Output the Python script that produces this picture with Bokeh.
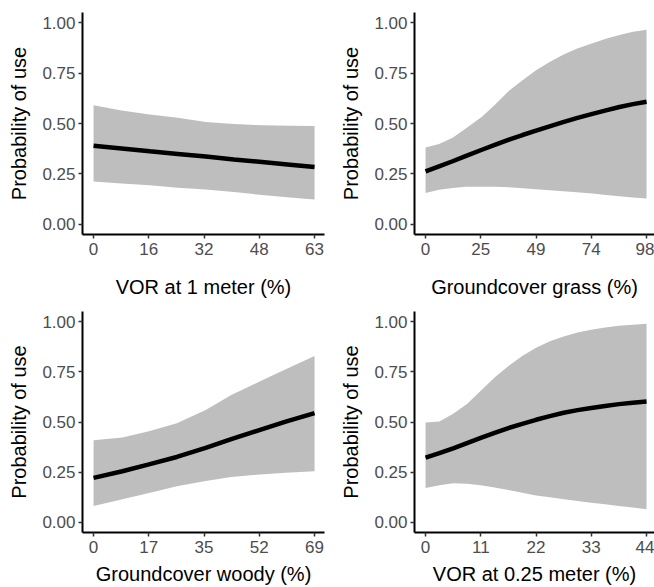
from bokeh.plotting import figure
from bokeh.layouts import gridplot
from bokeh.models import Range1d, FixedTicker
from bokeh.embed import file_html
from bokeh.resources import INLINE

# ---- data ----
y_ticks = [0.0, 0.25, 0.5, 0.75, 1.0]
y_tick_labels = ["0.00", "0.25", "0.50", "0.75", "1.00"]

x1 = [0, 8, 16, 24, 32, 40, 48, 56, 63]
mean1 = [0.390, 0.376, 0.362, 0.349, 0.336, 0.322, 0.309, 0.296, 0.284]
up1 = [0.591, 0.565, 0.545, 0.528, 0.508, 0.498, 0.491, 0.489, 0.488]
lo1 = [0.213, 0.203, 0.194, 0.182, 0.173, 0.160, 0.146, 0.133, 0.123]
xmax1 = 63
xt1 = ["0", "16", "32", "48", "63"]
xlab1 = "VOR at 1 meter (%)"

x2 = [0, 6, 12, 18, 25, 31, 37, 43, 49, 55, 61, 67, 74, 80, 86, 92, 98]
mean2 = [0.263, 0.288, 0.313, 0.340, 0.370, 0.395, 0.420, 0.443, 0.465,
         0.486, 0.507, 0.527, 0.548, 0.565, 0.582, 0.596, 0.608]
up2 = [0.381, 0.399, 0.430, 0.476, 0.534, 0.596, 0.662, 0.714, 0.764,
       0.805, 0.841, 0.870, 0.898, 0.920, 0.939, 0.954, 0.964]
lo2 = [0.156, 0.172, 0.181, 0.186, 0.187, 0.187, 0.184, 0.179, 0.174,
       0.169, 0.164, 0.159, 0.153, 0.146, 0.140, 0.133, 0.128]
xmax2 = 98
xt2 = ["0", "25", "49", "74", "98"]
xlab2 = "Groundcover grass (%)"

x3 = [0, 9, 17, 26, 35, 43, 52, 60, 69]
mean3 = [0.222, 0.255, 0.288, 0.326, 0.371, 0.415, 0.461, 0.502, 0.544]
up3 = [0.409, 0.423, 0.453, 0.494, 0.560, 0.634, 0.703, 0.763, 0.829]
lo3 = [0.082, 0.115, 0.145, 0.180, 0.206, 0.226, 0.239, 0.247, 0.255]
xmax3 = 69
xt3 = ["0", "17", "35", "52", "69"]
xlab3 = "Groundcover woody (%)"

x4 = [0, 2.75, 5.5, 8.25, 11, 13.75, 16.5, 19.25, 22, 24.75, 27.5, 30.25,
      33, 35.75, 38.5, 41.25, 44]
mean4 = [0.323, 0.345, 0.369, 0.395, 0.421, 0.446, 0.470, 0.491, 0.511,
         0.529, 0.546, 0.559, 0.570, 0.580, 0.589, 0.596, 0.602]
up4 = [0.497, 0.503, 0.541, 0.590, 0.656, 0.721, 0.779, 0.828, 0.869,
       0.902, 0.926, 0.946, 0.959, 0.970, 0.979, 0.984, 0.989]
lo4 = [0.172, 0.185, 0.195, 0.193, 0.185, 0.174, 0.161, 0.148, 0.134,
       0.125, 0.115, 0.107, 0.098, 0.090, 0.082, 0.074, 0.066]
xmax4 = 44
xt4 = ["0", "11", "22", "33", "44"]
xlab4 = "VOR at 0.25 meter (%)"

FONT = "Liberation Sans"
LEFT_B = 82


def panel(x, mean, lo, up, xmax, xtl, xlab, width, height, right_col, top_row):
    right_b = 0 if right_col else 8
    frame_w = width - LEFT_B - right_b
    # 0..xmax spans 221 px of the frame, with ~10.5 px padding on the left
    x_start = -0.05 * xmax
    x_end = x_start + xmax * frame_w / 221.0
    p = figure(width=width, height=height, output_backend="svg",
               toolbar_location=None,
               x_range=Range1d(x_start, x_end), y_range=Range1d(-0.05, 1.05),
               min_border_left=LEFT_B, min_border_right=right_b,
               min_border_top=(12 if top_row else 11),
               min_border_bottom=(66 if top_row else 54))
    p.outline_line_color = None
    p.xgrid.visible = False
    p.ygrid.visible = False
    p.background_fill_color = "white"
    p.border_fill_color = "white"

    p.varea(x=x, y1=lo, y2=up, fill_color="#BEBEBE", fill_alpha=1.0)
    p.line(x=x, y=mean, line_color="black", line_width=4.5)

    xticks = [xmax * i / 4.0 for i in range(5)]
    p.xaxis.ticker = FixedTicker(ticks=xticks)
    p.xaxis.major_label_overrides = {t: l for t, l in zip(xticks, xtl)}
    p.yaxis.ticker = FixedTicker(ticks=y_ticks)
    p.yaxis.major_label_overrides = {t: l for t, l in zip(y_ticks, y_tick_labels)}
    p.xaxis.axis_label = xlab
    p.yaxis.axis_label = "Probability of use"

    for ax in (p.xaxis[0], p.yaxis[0]):
        ax.axis_line_width = 2
        ax.axis_line_color = "black"
        ax.major_tick_line_color = "#333333"
        ax.major_tick_line_width = 1.5
        ax.major_tick_out = 4
        ax.major_tick_in = 0
        ax.minor_tick_line_color = None
        ax.major_label_text_font = FONT
        ax.major_label_text_font_size = "17px"
        ax.major_label_text_color = "#4D4D4D"
        ax.axis_label_text_font = FONT
        ax.axis_label_text_font_size = "20px"
        ax.axis_label_text_font_style = "normal"
        ax.axis_label_text_color = "black"
    p.xaxis.major_label_standoff = 4
    p.yaxis.major_label_standoff = 3
    p.xaxis.axis_label_standoff = 18 if top_row else 7
    p.yaxis.axis_label_standoff = 9
    return p


p1 = panel(x1, mean1, lo1, up1, xmax1, xt1, xlab1, 332, 300, False, True)
p2 = panel(x2, mean2, lo2, up2, xmax2, xt2, xlab2, 322, 300, True, True)
p3 = panel(x3, mean3, lo3, up3, xmax3, xt3, xlab3, 332, 287, False, False)
p4 = panel(x4, mean4, lo4, up4, xmax4, xt4, xlab4, 322, 287, True, False)

grid = gridplot([[p1, p2], [p3, p4]], toolbar_location=None)

with open("out.html", "w") as f:
    f.write(file_html(grid, INLINE))
